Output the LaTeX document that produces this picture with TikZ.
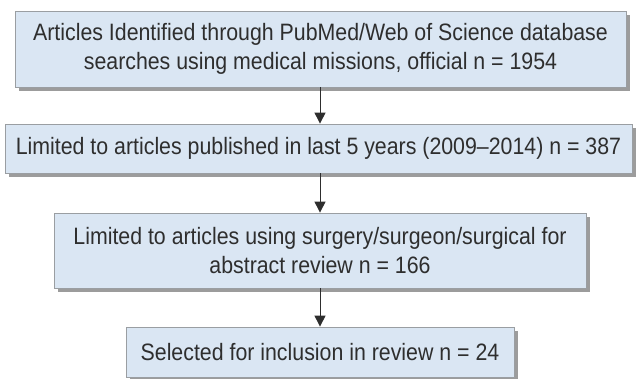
\documentclass[tikz,border=0pt]{standalone}
\usepackage{fontspec}
\setmainfont{Liberation Sans}[FakeStretch=0.9]
\usetikzlibrary{arrows.meta,shadows}
\definecolor{boxfill}{HTML}{DAE6F3}
\definecolor{boxline}{HTML}{9A9EA2}
\definecolor{shadowc}{HTML}{9C9C9C}
\definecolor{txt}{HTML}{2E2E2E}
\tikzset{
  flowbox/.style={draw=boxline, line width=0.8pt, fill=boxfill, text=txt,
    align=center, inner sep=0pt, font=\fontsize{23.7}{29.5}\selectfont,
    drop shadow={shadow xshift=4pt, shadow yshift=-4pt, fill=shadowc, opacity=1}},
  flowarrow/.style={draw=txt, line width=1pt, -{Triangle[length=11pt,width=11pt]}}
}
\begin{document}
\begin{tikzpicture}[x=1pt,y=-1pt]
\useasboundingbox (0,0) rectangle (636,378);
\node[flowbox, minimum width=611pt, minimum height=76pt] (b1) at (320.5,49)
  {Articles Identified through PubMed/Web of Science database\\searches using medical missions, official n = 1954};
\node[flowbox, minimum width=627pt, minimum height=49pt] (b2) at (318.5,148.5)
  {Limited to articles published in last 5 years (2009--2014) n = 387};
\node[flowbox, minimum width=532pt, minimum height=75pt] (b3) at (320,250.5)
  {Limited to articles using surgery/surgeon/surgical for\\abstract review n = 166};
\node[flowbox, minimum width=388pt, minimum height=50pt] (b4) at (320,352)
  {Selected for inclusion in review n = 24};
\draw[flowarrow] (b1.south -| 320,0) -- (b2.north -| 320,0);
\draw[flowarrow] (b2.south -| 320,0) -- (b3.north);
\draw[flowarrow] (b3.south) -- (b4.north);
\end{tikzpicture}
\end{document}
